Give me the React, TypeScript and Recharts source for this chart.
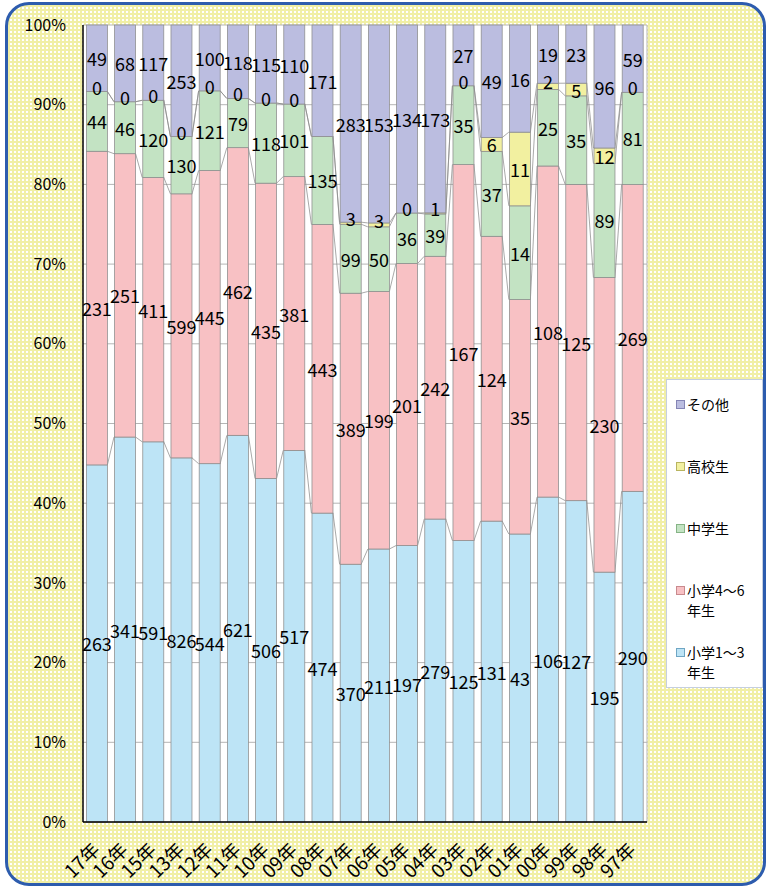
import React from 'react';
import { BarChart, Bar, XAxis, YAxis, CartesianGrid, LabelList, Legend } from 'recharts';

const categories = ['17年', '16年', '15年', '13年', '12年', '11年', '10年', '09年', '08年', '07年', '06年', '05年', '04年', '03年', '02年', '01年', '00年', '99年', '98年', '97年'];
const grade1to3 = [263, 341, 591, 826, 544, 621, 506, 517, 474, 370, 211, 197, 279, 125, 131, 43, 106, 127, 195, 290];
const grade4to6 = [231, 251, 411, 599, 445, 462, 435, 381, 443, 389, 199, 201, 242, 167, 124, 35, 108, 125, 230, 269];
const juniorHigh = [44, 46, 120, 130, 121, 79, 118, 101, 135, 99, 50, 36, 39, 35, 37, 14, 25, 35, 89, 81];
const highSchool: (number | null)[] = [0, 0, 0, 0, 0, 0, 0, 0, null, 3, 3, 0, 1, 0, 6, 11, 2, 5, 12, 0];
const others = [49, 68, 117, 253, 100, 118, 115, 110, 171, 283, 153, 134, 173, 27, 49, 16, 19, 23, 96, 59];
const yTicks = [0, 0.1, 0.2, 0.3, 0.4, 0.5, 0.6, 0.7, 0.8, 0.9, 1];

const seriesValues = [grade1to3, grade4to6, juniorHigh, highSchool, others];
const seriesKeys = ['g13', 'g46', 'jh', 'hs', 'ot'];
const seriesColors = ['#bde4f6', '#f8c1c4', '#c3e3c3', '#f2f0a0', '#bbbde0'];
const seriesBorders = ['#6fa6c4', '#c98a8e', '#86b486', '#b8b460', '#8585b5'];
const legendLines = [['小学1～3', '年生'], ['小学4～6', '年生'], ['中学生'], ['高校生'], ['その他']];

const data = categories.map((c, i) => {
  const row: any = { cat: c };
  seriesKeys.forEach((k, s) => { row[k] = seriesValues[s][i]; });
  return row;
});

const FONT = '"Noto Sans CJK JP", "Noto Sans", sans-serif';
const GAP = 0.12;
const W = 768;
const H = 888;
const MARGIN = { top: 25, right: 121, bottom: 6, left: 0 };
const YW = 83;
const XH = 60;
const PLOT_TOP = MARGIN.top;
const PLOT_H = H - MARGIN.top - MARGIN.bottom - XH;

const total = (i: number) => seriesValues.reduce((a, s) => a + (s[i] || 0), 0);
const cum = (i: number, k: number) => {
  let sum = 0;
  for (let s = 0; s <= k; s++) sum += seriesValues[s][i] || 0;
  return sum / total(i);
};

const makeShape = (k: number) => (props: any) => {
  const { x, y, width, height, index, background, fill } = props;
  if (x == null || y == null) return null;
  const top = background && background.y != null ? background.y : PLOT_TOP;
  const h = background && background.height != null ? background.height : PLOT_H;
  const ry = Math.min(y, y + height);
  const rh = Math.abs(height);
  const parts: any[] = [
    <rect key="r" x={x} y={ry} width={width} height={rh} fill={fill} stroke="#8c8c8c" strokeWidth={0.75} />,
  ];
  if (k < 4 && index < categories.length - 1) {
    const gap = (width * 2 * GAP) / (1 - 2 * GAP);
    const y1 = top + (1 - cum(index, k)) * h;
    const y2 = top + (1 - cum(index + 1, k)) * h;
    parts.push(
      <line key="l" x1={x + width} y1={y1} x2={x + width + gap} y2={y2} stroke="#8c8c8c" strokeWidth={0.75} />
    );
  }
  return <g>{parts}</g>;
};

const makeLabel = (lift: number) => (props: any) => {
  const { x, y, width, height, value } = props;
  if (value == null || x == null) return null;
  const cx = x + width / 2;
  const small = Math.abs(height) < 10;
  const cy = y + height / 2 - (small ? lift : 0);
  return (
    <text x={cx} y={cy} textAnchor="middle" dominantBaseline="central" fontSize={18} fontFamily={FONT} fill="#000">
      {value}
    </text>
  );
};

const XTick = (props: any) => {
  const { x, y, payload } = props;
  const ax = x + 4;
  const ay = y + 29;
  return (
    <text x={ax} y={ay} transform={`rotate(-45 ${ax} ${ay})`} textAnchor="end" fontSize={19} fontFamily={FONT} fill="#000">
      {payload.value}
    </text>
  );
};

const renderLegend = () => {
  const order = [4, 3, 2, 1, 0];
  return (
    <div style={{ boxSizing: 'border-box', width: '100%', height: '100%', background: '#fff', border: '1px solid #c5cfe0', paddingTop: 14, fontFamily: FONT }}>
      {order.map((s) => (
        <div key={s} style={{ position: 'relative', height: 62, paddingLeft: 20, fontSize: 14, lineHeight: '20px', color: '#000' }}>
          <span style={{ position: 'absolute', left: 9, top: 6, width: 7, height: 7, background: seriesColors[s], border: `1px solid ${seriesBorders[s]}` }} />
          {legendLines[s].map((t, j) => (
            <div key={j}>{t}</div>
          ))}
        </div>
      ))}
    </div>
  );
};

export default function App() {
  return (
    <div style={{ position: 'absolute', left: 0, top: 0, width: W, height: H, background: '#fff' }}>
      <div
        style={{
          position: 'absolute',
          left: 5,
          top: 2,
          width: 761,
          height: 884,
          boxSizing: 'border-box',
          border: '3px solid #2d5cae',
          borderRadius: 24,
          backgroundColor: '#ffffff',
          backgroundImage:
            'linear-gradient(90deg, #f1efa6 50%, transparent 50%), linear-gradient(#f1efa6 50%, transparent 50%)',
          backgroundSize: '4px 4px',
        }}
      />
      <div style={{ position: 'absolute', left: 0, top: 0 }}>
        <BarChart width={W} height={H} data={data} stackOffset="expand" margin={MARGIN} barCategoryGap={`${GAP * 100}%`}>
          <CartesianGrid
            fill="#ffffff"
            stroke="#b5b5b5"
            strokeWidth={1}
            verticalCoordinatesGenerator={({ offset }: any) => [offset.left + offset.width]}
          />
          <XAxis dataKey="cat" height={XH} interval={0} tickLine={false} tickSize={0} tickMargin={0} axisLine={{ stroke: '#000', strokeWidth: 1.5 }} tick={<XTick />} />
          <YAxis
            type="number"
            width={YW}
            domain={[0, 1]}
            ticks={yTicks}
            tickFormatter={(v: number) => `${Math.round(v * 100)}%`}
            tickLine={false}
            tickSize={0}
            tickMargin={17}
            axisLine={{ stroke: '#000', strokeWidth: 1.5 }}
            tick={{ fontSize: 16, fill: '#000', fontFamily: FONT }}
          />
          {seriesKeys.map((k, s) => (
            <Bar key={k} dataKey={k} stackId="a" fill={seriesColors[s]} isAnimationActive={false} shape={makeShape(s)}>
              <LabelList dataKey={k} content={makeLabel(s === 3 ? 5 : 0)} />
            </Bar>
          ))}
          <Legend
            layout="vertical"
            align="center"
            verticalAlign="middle"
            content={renderLegend}
            wrapperStyle={{ position: 'absolute', left: 666, top: 379, width: 97, height: 309 }}
          />
        </BarChart>
      </div>
    </div>
  );
}
